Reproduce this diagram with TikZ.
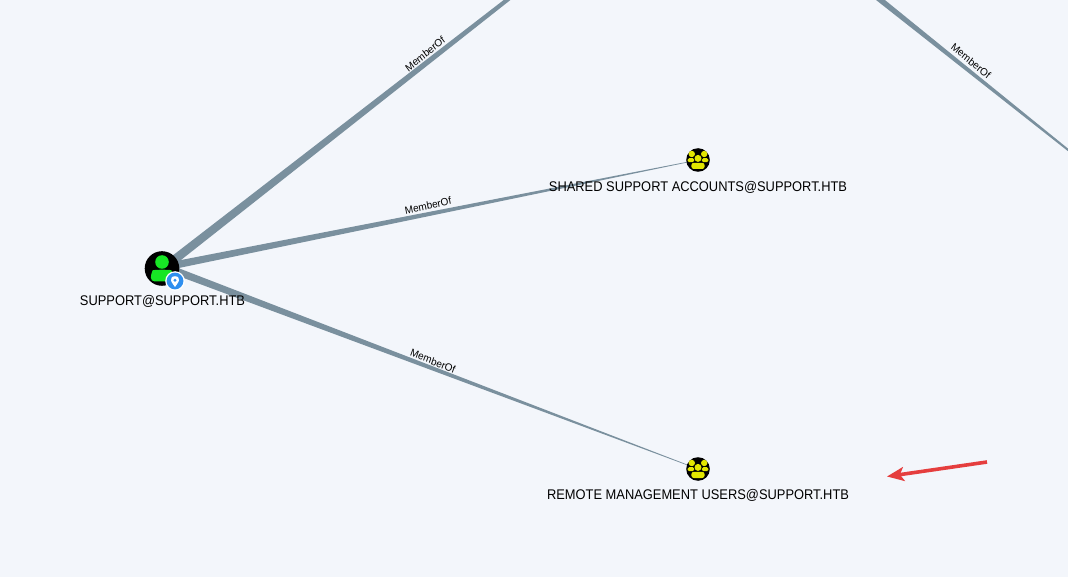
\documentclass[tikz,border=0pt]{standalone}
\usepackage{fontspec}
\setmainfont{Liberation Sans}
\usetikzlibrary{calc,arrows.meta}
\definecolor{bgc}{HTML}{F3F6FB}
\definecolor{edgec}{HTML}{7A909E}
\definecolor{arrowc}{HTML}{E53E3E}
\definecolor{grp}{HTML}{E2E600}
\definecolor{usr}{HTML}{17E625}
\definecolor{pinc}{HTML}{2F8FEF}
\tikzset{
  x=1pt,y=-1pt,
  nlabel/.style={font=\fontsize{14}{16}\selectfont,text=black,inner sep=0pt,xscale=0.92},
  elabel/.style={font=\fontsize{10.5}{12}\selectfont,text=black,inner sep=0pt,xscale=0.95},
  wedge/.style={fill=edgec,draw=none}
}
\newcommand{\taper}[4]{% from, to, half-width at from, half-width at to
  \fill[wedge] ($(#1)!#3pt!90:(#2)$) -- ($(#1)!#3pt!-90:(#2)$) -- ($(#2)!#4pt!90:(#1)$) -- ($(#2)!#4pt!-90:(#1)$) -- cycle;}
\newcommand{\grpicon}[2]{%
  \begin{scope}[shift={(#1,#2)}]
    \fill[black] (0,0) circle (11.8);
    \fill[grp] (-6.2,-6) circle (3.2);
    \fill[grp] (6.2,-6) circle (3.2);
    \fill[grp] (0,-1.6) circle (3.5);
    \fill[grp,rounded corners=1.5] (-10.4,2.2) rectangle (-3.8,-1.8);
    \fill[grp,rounded corners=1.5] (10.4,2.2) rectangle (3.8,-1.8);
    \fill[grp,rounded corners=2.4] (-6.6,9) rectangle (6.6,2.8);
  \end{scope}}
\begin{document}
\begin{tikzpicture}
\useasboundingbox (0,0) rectangle (1068,577);
\fill[bgc] (0,0) rectangle (1068,577);
\clip (0,0) rectangle (1068,577);
\coordinate (support) at (165,267);
\coordinate (shared) at (698,160);
\coordinate (remote) at (698,469);
\coordinate (domain) at (575,-53);
\coordinate (tr) at (878,-2);
\coordinate (trend) at (1070,151.5);
\taper{support}{domain}{4.4}{1.6}
\taper{support}{shared}{3.8}{0.25}
\taper{support}{remote}{3.8}{0.25}
\taper{tr}{trend}{2.8}{1.0}
\node[elabel,rotate=37.6] (l1) at (425,54) {MemberOf};
\node[elabel,rotate=11.4] (l2) at (428,205.5) {MemberOf};
\node[elabel,rotate=-20.5] (l3) at (433,361) {MemberOf};
\node[elabel,rotate=-38.5] (l4) at (971,61) {MemberOf};
% user icon
\fill[black] (162,268.5) circle (17.3);
\fill[usr] (162,262) circle (6.8);
\fill[usr,rounded corners=4] (150.8,281.5) -- (150.8,274) .. controls (153,269.5) and (171,269.5) .. (173,274) -- (173,281.5) -- cycle;
\fill[white] (175,281) circle (9.8);
\fill[pinc] (175,281) circle (8.4);
\fill[white] (175,276.2) .. controls (171.5,276.2) and (170.5,279) .. (171,280.8) .. controls (171.6,283) and (174,285) .. (175,287) .. controls (176,285) and (178.4,283) .. (179,280.8) .. controls (179.5,279) and (178.5,276.2) .. (175,276.2) -- cycle;
\fill[pinc] (175,280.2) circle (1.6);
\grpicon{698}{160}
\grpicon{698}{469}
\node[nlabel] (n1) at (162.5,301) {SUPPORT@SUPPORT.HTB};
\node[nlabel] (n2) at (698,187) {SHARED SUPPORT ACCOUNTS@SUPPORT.HTB};
\node[nlabel] (n3) at (698,495) {REMOTE MANAGEMENT USERS@SUPPORT.HTB};
% red arrow
\coordinate (as) at (987,462);
\coordinate (ae) at (887,476.5);
\draw[arrowc,line width=3.6pt,-{Stealth[length=17pt,width=14pt,inset=4pt]}] (as) -- (ae);
\end{tikzpicture}
\end{document}
